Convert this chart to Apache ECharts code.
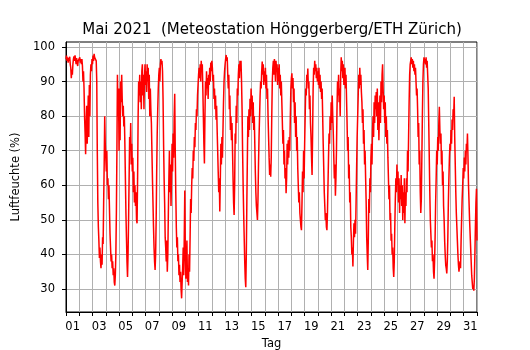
<!DOCTYPE html>
<html>
<head>
<meta charset="utf-8">
<script src="https://cdn.jsdelivr.net/npm/echarts@6/dist/echarts.min.js"></script>
<style>html,body{margin:0;padding:0;background:#fff;}#c{width:530px;height:350px;}</style>
</head>
<body>
<div id="c"></div>
<script>
// Sampling step of the readings (days); first value at May 1, 00:00
const STEP = 0.04;
// Relative humidity (%), one value per STEP
const humidity = [
  96.5,
  /*01*/ 97.5,96,97,95.5,96.8,96,97.2,95,94,91,93.5,92,95,96.5,97.3,96,97.6,96.5,95,96.8,97,94.5,96,95.5,96.5,
  /*02*/ 97,95.5,96.5,95,96.5,94.5,90,93,88,80,75,69,78,83,72,79,86,74,89,80,92,95,93,96.5,95,
  /*03*/ 97.5,96,98,97,96.5,97.5,96,90,70,55,48,44,39,42,38,36,40,37,45,43,55,66,80,72,68,
  /*04*/ 64,70,60,62,56,60,53,46,42,38,40,36,38,34,36,32,31,34,40,52,70,92,80,88,70,
  /*05*/ 88,73,90,84,92,85,80,83,77,80,72,62,52,45,38,33.5,40,50,62,74,70,78,66,72,64,
  /*06*/ 68,58,64,55,60,54,58,50,49,62,80,90,86,92,84,90,82,93,95,86,92,82,91,95,89,
  /*07*/ 93,87,95,90,94,85,92,80,88,82,78,70,62,55,48,42,38,35.5,40,50,64,75,82,88,92,
  /*08*/ 94,90,95,96.5,95,96,93,85,72,62,55,45,42,38,44,35,40,52,62,70,58,66,54,62,72,
  /*09*/ 64,75,68,80,86.5,70,58,48,42,45,38,40,34,37,32,35,30,27.3,32,36,42,34,45,58.5,40,
  /*10*/ 33,38,44,32,36,31,40,35,45,56,52,60,65,62,70,67,74,71,78,76,82,80,86,89,92,
  /*11*/ 94,91,95,90,96,93,95,88,80,72,66.3,80,90,86,93,88,91,85,92,89,94,90,95.5,93,96,
  /*12*/ 94,90,92,85,88,82,86,79,83,76,70,64,58,62,52.4,62,72,66,74,68,76,84,90,93,95,
  /*13*/ 96.5,97.7,96,97,92,88,92,82,86,76,80,73,78,70,62,55,51.4,60,75,72,83,78,88,86,92,
  /*14*/ 95,91,96,93,96,90,82,70,60,52,45,38,33,30.5,40,55,68,80,74,82,76,85,80,88,82,
  /*15*/ 86,78,84,76,80,72,64,58,54,52,50,56,66,74,80,86,90,88,93,95.8,92,95,89,93,90,
  /*16*/ 94,88,92,85,88,80,74,68,63,66,62.5,68,80,90,94,96,92,96.5,94,90,96,93,95,89,94,
  /*17*/ 90,95,88,92,86,90,84,78,72,76,66,70,62,65,57.7,62,72,66,73,68,74,70,80,88,91,
  /*18*/ 92.4,88,91,84,88,78,84,74,80,70,74,65,60,55,58,52,50,48,47,55,64,58,70,62,72,
  /*19*/ 80,88,86,92,90,93.8,88,90,82,86,78,74,68,63,75,88,94,92,96,93,95,91,94,90,93,
  /*20*/ 89,94,88,92,87,90,85,88,80,72,65,58,54,50,52,48,47,52,60,68,75,72,80,76,84,
  /*21*/ 78,86,80,75,68,62,66,57,62,70,82,90,86,92,84,88,80,92,97,93,96,91,95,89,93,
  /*22*/ 94,88,92,85,78,70,74,62,66,55,58,48,45,40,42,36.5,44,49,45,50,46,55,65,74,80,
  /*23*/ 86,92,88,94,89,92,87,84,78,82,72,76,66,70,62,55,45,40,35.5,44,56,52,62,58,68,
  /*24*/ 72,66,76,80,74,84,78,86,82,87,80,88,76,84,73,80,86,78,90,84,92,95,88,82,86,
  /*25*/ 78,84,74,80,72,76,68,62,56,60,50,52,44,46,40,42,36,33.5,38,48,56,62,58,66,60,
  /*26*/ 64,55,62,52,60,56,63,54,60,50,58,52,62,49,58,54,62,58,70,64,74,84,92,95,96,
  /*27*/ 97,95,96.5,94,96,93,95,92,94,90,86,88,82,74,78,66,70,58,52,56,68,80,90,95,97,
  /*28*/ 96.5,97.5,95,97,94,96,92,88,78,68,58,50,46,42,44,38,40,35,33,38,45,55,62,70,66,
  /*29*/ 74,70,78,82.7,76,72,75,66,70,60,64,54,50,44,40,37,36,34.5,38,45,55,62,68,72,70,
  /*30*/ 76,72,79,76,82,80,85.6,74,66,58,52,48,44,40,37,35,34.5,38,36,44,50,56,60,65,62,
  /*31*/ 68,64,70,66,72,70,75,68,60,55,50,46,42,38,34,32,30,31,29.5,33,40,48,55,59,44
];
// Day labels, placed at noon of every second day
const dayLabels = ['01','03','05','07','09','11','13','15','17','19','21','23','25','27','29','31'];
const dayLabelPositions = dayLabels.map(d => parseInt(d, 10) - 0.5);
const yTicks = [30, 40, 50, 60, 70, 80, 90, 100];

const points = humidity.map((v, i) => [i * STEP, v]);
const FONT = 'DejaVu Sans';

const chart = echarts.init(document.getElementById('c'), null, {renderer: 'canvas'});
chart.setOption({
  animation: false,
  backgroundColor: '#ffffff',
  title: {
    text: 'Mai 2021  (Meteostation Hönggerberg/ETH Zürich)',
    left: 267, top: 18, textAlign: 'center',
    textStyle: {fontFamily: FONT, fontSize: 15, fontWeight: 'normal', color: '#000'}
  },
  grid: {
    left: 66, right: 53, top: 42, bottom: 38,
    outerBoundsMode: 'none', containLabel: false,
    show: true, borderColor: '#000', borderWidth: 1, backgroundColor: 'transparent'
  },
  xAxis: {
    type: 'value', min: 0, max: 31, interval: 1,
    name: 'Tag', nameLocation: 'middle', nameGap: 24,
    nameTextStyle: {fontFamily: FONT, fontSize: 11.5, color: '#000'},
    axisLine: {show: true, lineStyle: {color: '#000', width: 1}},
    axisTick: {show: true, length: 4, lineStyle: {color: '#000', width: 1}},
    axisLabel: {
      customValues: dayLabelPositions,
      formatter: v => String(Math.round(v + 0.5)).padStart(2, '0'),
      fontFamily: FONT, fontSize: 11.5, color: '#000', margin: 9
    },
    splitLine: {show: true, lineStyle: {color: '#b0b0b0', width: 1}}
  },
  yAxis: {
    type: 'value', min: 23.35, max: 101.45,
    name: 'Luftfeuchte (%)', nameLocation: 'middle', nameGap: 40,
    nameTextStyle: {fontFamily: FONT, fontSize: 11.5, color: '#000'},
    axisLine: {show: true, lineStyle: {color: '#000', width: 1}},
    axisTick: {show: true, length: 4, customValues: yTicks, lineStyle: {color: '#000', width: 1}},
    axisLabel: {customValues: yTicks, fontFamily: FONT, fontSize: 11.5, color: '#000', margin: 11},
    splitLine: {show: true, lineStyle: {color: '#b0b0b0', width: 1}}
  },
  series: [{
    type: 'line',
    data: points,
    showSymbol: false,
    symbol: 'none',
    clip: true,
    lineStyle: {color: '#ff0000', width: 1.5},
    z: 3
  }]
});
</script>
</body>
</html>
